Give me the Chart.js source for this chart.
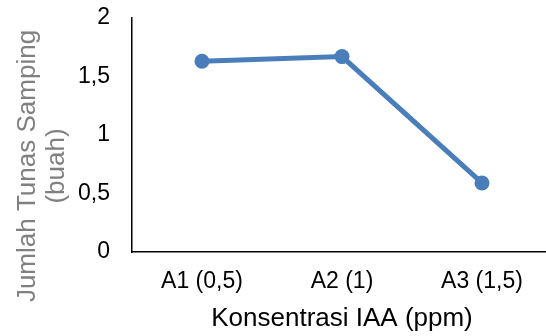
<!DOCTYPE html>
<html>
<head>
<meta charset="utf-8">
<script src="https://cdn.jsdelivr.net/npm/chart.js@4/dist/chart.umd.min.js"></script>
<style>
  html, body { margin: 0; padding: 0; background: #fff; overflow: hidden; }
  #wrap { width: 552px; height: 336px; position: relative; }
</style>
</head>
<body>
<div id="wrap"><canvas id="myChart"></canvas></div>
<script>
// categories along the x-axis
var perlakuan = ["A1 (0,5)", "A2 (1)", "A3 (1,5)"];
// number of side shoots
var jumlahTunas = [1.63, 1.67, 0.59];
// y tick labels
var yTicks = [0, 0.5, 1, 1.5, 2];

var yTitle = ["Jumlah Tunas Samping", "(buah)"];
var xTitle = "Konsentrasi IAA (ppm)";

var fontFamily = "'Liberation Sans', Arial, sans-serif";
var lineColor = "#4A7EBB";

// the y-axis title is drawn lower than the axis centre, like the original
var yTitlePlugin = {
    id: "yTitle",
    afterDraw: function (chart) {
        var c = chart.ctx;
        c.save();
        c.fillStyle = "#808080";
        c.font = "26px " + fontFamily;
        c.textAlign = "center";
        c.textBaseline = "middle";
        c.translate(0, 166);
        c.rotate(-Math.PI / 2);
        c.fillText(yTitle[0], 0, 28);
        c.fillText(yTitle[1], 0, 57);
        c.restore();
    }
};

var ctx = document.getElementById("myChart");

var myChart = new Chart(ctx, {
    type: 'line',
    data: {
        labels: perlakuan,
        datasets: [
            {
                data: jumlahTunas,
                label: "Jumlah Tunas Samping",
                borderColor: lineColor,
                backgroundColor: lineColor,
                borderWidth: 5,
                pointRadius: 7.5,
                pointBackgroundColor: lineColor,
                pointBorderWidth: 0,
                fill: false,
                tension: 0
            }
        ]
    },
    options: {
        responsive: true,
        maintainAspectRatio: false,
        animation: false,
        layout: { padding: { top: 18, right: 0, left: 0, bottom: 0 }, autoPadding: false },
        plugins: {
            legend: { display: false },
            tooltip: { enabled: false }
        },
        scales: {
            x: {
                offset: true,
                grid: { display: false, drawTicks: false },
                border: { display: true, color: "#000", width: 1.5 },
                ticks: {
                    color: "#000",
                    padding: 16,
                    font: { family: fontFamily, size: 23 }
                },
                title: {
                    display: true,
                    text: xTitle,
                    color: "#000",
                    font: { family: fontFamily, size: 26 },
                    padding: { top: 0, bottom: 2 }
                },
                afterFit: function (scale) { scale.height = 84; }
            },
            y: {
                min: 0,
                max: 2,
                afterBuildTicks: function (scale) {
                    scale.ticks = yTicks.map(function (v) { return { value: v }; });
                },
                grid: { display: false, drawTicks: false },
                border: { display: true, color: "#000", width: 1.5 },
                ticks: {
                    color: "#000",
                    padding: 22,
                    font: { family: fontFamily, size: 23 },
                    callback: function (v) { return String(v).replace(".", ","); }
                },
                afterFit: function (scale) {
                    scale.width = 132;
                    scale.paddingTop = 0;
                    scale.paddingBottom = 0;
                }
            }
        }
    },
    plugins: [yTitlePlugin]
});
</script>
</body>
</html>
